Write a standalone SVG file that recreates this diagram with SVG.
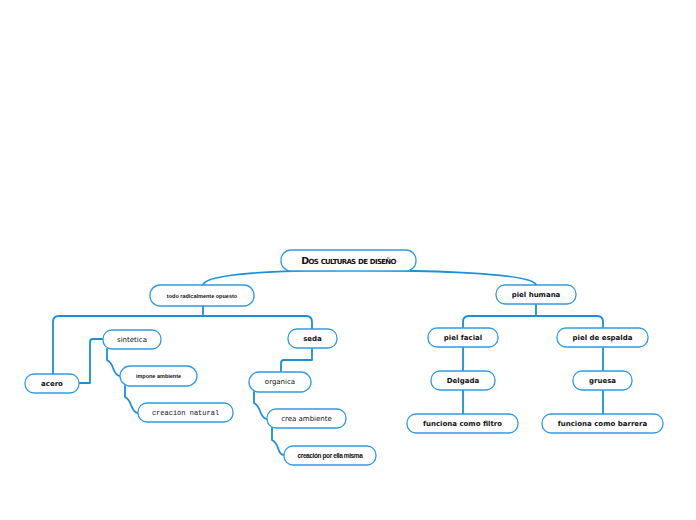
<svg xmlns="http://www.w3.org/2000/svg" width="696" height="520" viewBox="0 0 696 520">
<style>
.n{fill:#fff;stroke:#2f9be3;stroke-width:1.3}
.c{fill:none;stroke:#1a8fdc;stroke-width:1.8;stroke-linecap:round;stroke-linejoin:round}
text{text-anchor:middle;dominant-baseline:central;fill:#111}
.b{font-family:"DejaVu Sans",sans-serif;font-weight:bold;font-size:7px}
.r{font-family:"DejaVu Sans",sans-serif;font-size:7px}
.m{font-family:"Liberation Mono",monospace;font-size:7px}
.h{font-family:"Liberation Sans Narrow","Liberation Sans",sans-serif;font-weight:bold;font-size:5.5px}
.k{font-family:"Liberation Sans",sans-serif;font-weight:bold;font-size:6.5px;letter-spacing:-0.4px}
.t{font-family:"DejaVu Sans",sans-serif;font-weight:900;font-size:9.5px;letter-spacing:-0.7px;font-variant:small-caps}
</style>
<rect width="696" height="520" fill="#fff"/>
<g id="connectors">
<path class="c" d="M348,270 Q205,271 203,285"/>
<path class="c" d="M348,270 Q533,271 536,285"/>
<path class="c" d="M203,306 V316 H59 Q53,316 53,322 V374"/>
<path class="c" d="M203,316 H306 Q312,316 312,322 V329"/>
<path class="c" d="M79,383 H90 V342 Q90,339 93,339 H103"/>
<path class="c" d="M107,349 V360 Q111,362 113,368 Q116,376 120,376"/>
<path class="c" d="M125,386 V397 Q129,399 131,405 Q134,413 138,413"/>
<path class="c" d="M312,348 V360 H284 Q281,360 281,363 V372"/>
<path class="c" d="M254,392 V403 Q258,405 260,411 Q263,419 267,419"/>
<path class="c" d="M272,428 V440 Q276,442 278,448 Q280,455 284,455"/>
<path class="c" d="M536,304 V316 H469 Q463,316 463,322 V328"/>
<path class="c" d="M536,316 H597 Q603,316 603,322 V328"/>
<path class="c" d="M463,347 V371"/>
<path class="c" d="M463,390 V414"/>
<path class="c" d="M603,347 V371"/>
<path class="c" d="M603,390 V414"/>
</g>
<g id="n-title"><rect class="n" x="281" y="250" width="135" height="21" rx="10"/><text class="t" x="348.5" y="260.5">Dos culturas de diseño</text></g>
<g id="n-todo"><rect class="n" x="150" y="285" width="104" height="21" rx="10"/><text class="h" x="202" y="295.5">todo radicalmente opuesto</text></g>
<g id="n-piel-humana"><rect class="n" x="496" y="285" width="80" height="19" rx="9"/><text class="b" x="536" y="294.5">piel humana</text></g>
<g id="n-acero"><rect class="n" x="25" y="374" width="54" height="19" rx="9"/><text class="b" x="52" y="383.5">acero</text></g>
<g id="n-sintetica"><rect class="n" x="103" y="330" width="58" height="19" rx="9"/><text class="r" x="132" y="339.5">sintetica</text></g>
<g id="n-impone"><rect class="n" x="120" y="366" width="77" height="20" rx="10"/><text class="h" x="158.5" y="376">impone ambiente</text></g>
<g id="n-creacion-natural"><rect class="n" x="138" y="403" width="95" height="19" rx="9"/><text class="m" x="185.5" y="412.5">creación natural</text></g>
<g id="n-seda"><rect class="n" x="288" y="329" width="49" height="19" rx="9"/><text class="b" x="312.5" y="338.5">seda</text></g>
<g id="n-organica"><rect class="n" x="249" y="372" width="62" height="20" rx="10"/><text class="r" x="280" y="382">organica</text></g>
<g id="n-crea-ambiente"><rect class="n" x="267" y="409" width="79" height="19" rx="9"/><text class="r" x="306.5" y="418.5">crea ambiente</text></g>
<g id="n-creacion-por"><rect class="n" x="284" y="446" width="92" height="19" rx="9"/><text class="k" x="330" y="455.5">creación por ella misma</text></g>
<g id="n-piel-facial"><rect class="n" x="428" y="328" width="70" height="19" rx="9"/><text class="b" x="463" y="337.5">piel facial</text></g>
<g id="n-piel-espalda"><rect class="n" x="557" y="328" width="91" height="19" rx="9"/><text class="b" x="602.5" y="337.5">piel de espalda</text></g>
<g id="n-delgada"><rect class="n" x="431" y="371" width="64" height="19" rx="9"/><text class="b" x="463" y="380.5">Delgada</text></g>
<g id="n-gruesa"><rect class="n" x="573" y="371" width="59" height="19" rx="9"/><text class="b" x="602.5" y="380.5">gruesa</text></g>
<g id="n-filtro"><rect class="n" x="407" y="414" width="111" height="19" rx="9"/><text class="b" x="462.5" y="423.5">funciona como filtro</text></g>
<g id="n-barrera"><rect class="n" x="542" y="414" width="121" height="19" rx="9"/><text class="b" x="602.5" y="423.5">funciona como barrera</text></g>
</svg>
